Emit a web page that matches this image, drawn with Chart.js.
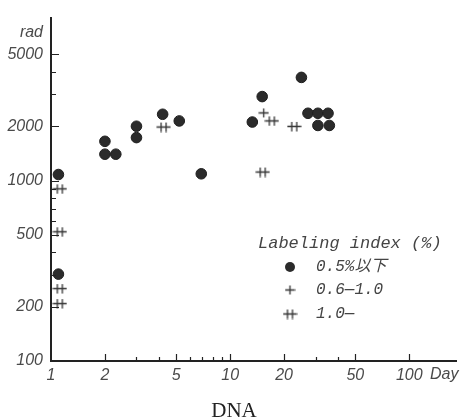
<!DOCTYPE html>
<html>
<head>
<meta charset="utf-8">
<script src="https://cdn.jsdelivr.net/npm/chart.js@4/dist/chart.umd.min.js"></script>
<style>
  html, body { margin: 0; padding: 0; background: #fff; }
  canvas { display: block; }
</style>
</head>
<body>
<canvas id="c" width="463" height="420"></canvas>
<script>
// ---- data ----
const dotsX  = [1.1, 1.1, 2.0, 2.0, 2.3, 3.0, 3.0, 4.2, 5.2, 6.9, 13.3, 15.1, 25.0, 27.2, 30.9, 35.2, 30.9, 35.8];
const dotsY  = [1080, 303, 1650, 1400, 1400, 2000, 1730, 2330, 2140, 1090, 2110, 2920, 3730, 2360, 2360, 2360, 2020, 2020];
const plusX  = [15.4];
const plusY  = [2370];
const dplusX = [1.12, 1.12, 1.12, 1.12, 4.25, 15.2, 17.1, 22.8];
const dplusY = [900, 520, 252, 208, 1980, 1115, 2140, 1995];

const xTicks = [1, 2, 5, 10, 20, 50, 100];
const xMinor = [3, 4, 6, 7, 8, 9, 30, 40];
const yTicks = [100, 200, 500, 1000, 2000, 5000];
const yMinor = [300, 400, 600, 700, 800, 900, 3000, 4000];

const legendTitle  = 'Labeling index (%)';
const legendLabels = ['0.5%以下', '0.6—1.0', '1.0—'];
const xUnit = 'Day';
const yUnit = 'rad';
const caption = 'DNA';

// ---- marker images ----
function makePlus() {
  const c = document.createElement('canvas');
  c.width = 11; c.height = 11;
  const g = c.getContext('2d');
  g.strokeStyle = '#333'; g.lineWidth = 1.3;
  g.beginPath();
  g.moveTo(0.5, 5.5); g.lineTo(10.5, 5.5);
  g.moveTo(5.5, 1); g.lineTo(5.5, 10);
  g.stroke();
  return c;
}
function makeDPlus() {
  const c = document.createElement('canvas');
  c.width = 15; c.height = 11;
  const g = c.getContext('2d');
  g.strokeStyle = '#333'; g.lineWidth = 1.3;
  g.beginPath();
  g.moveTo(0.5, 5.5); g.lineTo(14.5, 5.5);
  g.moveTo(5, 1); g.lineTo(5, 10.5);
  g.moveTo(10, 1); g.lineTo(10, 10.5);
  g.stroke();
  return c;
}
const plusImg = makePlus();
const dplusImg = makeDPlus();

const toPts = (xs, ys) => xs.map((x, i) => ({ x: x, y: ys[i] }));

const labelFont = { family: "'Liberation Sans', sans-serif", size: 16, style: 'italic' };
const inkColor = '#4a4a4a';

const decor = {
  id: 'decor',
  afterDraw(chart) {
    const ctx = chart.ctx;
    const xs = chart.scales.x, ys = chart.scales.y;
    const ca = chart.chartArea;
    ctx.save();
    // inward tick marks
    ctx.strokeStyle = '#222';
    ctx.lineWidth = 1.2;
    ctx.beginPath();
    xTicks.forEach(v => { if (v === 1) return; const p = Math.round(xs.getPixelForValue(v)) + 0.5; ctx.moveTo(p, ca.bottom); ctx.lineTo(p, ca.bottom - 7); });
    xMinor.forEach(v => { const p = Math.round(xs.getPixelForValue(v)) + 0.5; ctx.moveTo(p, ca.bottom); ctx.lineTo(p, ca.bottom - 4); });
    yTicks.forEach(v => { if (v === 100) return; const p = Math.round(ys.getPixelForValue(v)) + 0.5; ctx.moveTo(ca.left, p); ctx.lineTo(ca.left + 8, p); });
    yMinor.forEach(v => { const p = Math.round(ys.getPixelForValue(v)) + 0.5; ctx.moveTo(ca.left, p); ctx.lineTo(ca.left + 5, p); });
    ctx.stroke();

    // unit labels
    ctx.fillStyle = inkColor;
    ctx.font = "italic 16px 'Liberation Sans', sans-serif";
    ctx.textBaseline = 'middle';
    ctx.textAlign = 'right';
    ctx.fillText(yUnit, 43, 33);
    ctx.textAlign = 'left';
    ctx.fillText(xUnit, 430, 375);

    // legend
    ctx.font = "italic 17px 'Liberation Mono', monospace";
    ctx.fillStyle = '#444';
    ctx.textAlign = 'left';
    ctx.fillText(legendTitle, 258, 243);
    ctx.font = "italic 16px 'Liberation Mono', 'Noto Sans CJK JP', monospace";
    const rowsY = [267, 290, 314];
    ctx.beginPath();
    ctx.arc(290, rowsY[0], 5, 0, Math.PI * 2);
    ctx.fillStyle = '#2b2b2b';
    ctx.fill();
    ctx.drawImage(plusImg, 290 - 5.5, rowsY[1] - 5.5);
    ctx.drawImage(dplusImg, 290 - 7.5, rowsY[2] - 5.5);
    ctx.fillStyle = '#444';
    legendLabels.forEach((t, i) => ctx.fillText(t, 316, rowsY[i]));

    // caption
    ctx.font = "21px 'Liberation Serif', serif";
    ctx.fillStyle = '#222';
    ctx.textAlign = 'center';
    ctx.fillText(caption, 234, 411);
    ctx.restore();
  }
};

new Chart(document.getElementById('c'), {
  type: 'scatter',
  data: {
    datasets: [
      { label: legendLabels[0], data: toPts(dotsX, dotsY), pointStyle: 'circle', pointRadius: 5.3,
        backgroundColor: '#2b2b2b', borderColor: '#1f1f1f', borderWidth: 1 },
      { label: legendLabels[1], data: toPts(plusX, plusY), pointStyle: plusImg },
      { label: legendLabels[2], data: toPts(dplusX, dplusY), pointStyle: dplusImg }
    ]
  },
  options: {
    responsive: false,
    devicePixelRatio: 1,
    animation: false,
    layout: { padding: { top: 14, right: 2, left: 0, bottom: 0 } },
    plugins: { legend: { display: false }, tooltip: { enabled: false } },
    scales: {
      x: {
        type: 'logarithmic', min: 1, max: 184, bounds: 'data',
        afterBuildTicks: s => { s.ticks = xTicks.map(v => ({ value: v })); },
        afterFit: s => { s.height = 59; },
        grid: { display: false, drawTicks: false },
        border: { display: true, color: '#222', width: 2 },
        ticks: { font: labelFont, color: inkColor, padding: 5, maxRotation: 0, autoSkip: false,
                 callback: v => String(v) }
      },
      y: {
        type: 'logarithmic', min: 100, max: 8000, bounds: 'data',
        afterBuildTicks: s => { s.ticks = yTicks.map(v => ({ value: v })); },
        afterFit: s => { s.width = 51; },
        grid: { display: false, drawTicks: false },
        border: { display: true, color: '#222', width: 2 },
        ticks: { font: labelFont, color: inkColor, padding: 8, autoSkip: false,
                 callback: v => String(v) }
      }
    }
  },
  plugins: [decor]
});
</script>
</body>
</html>
